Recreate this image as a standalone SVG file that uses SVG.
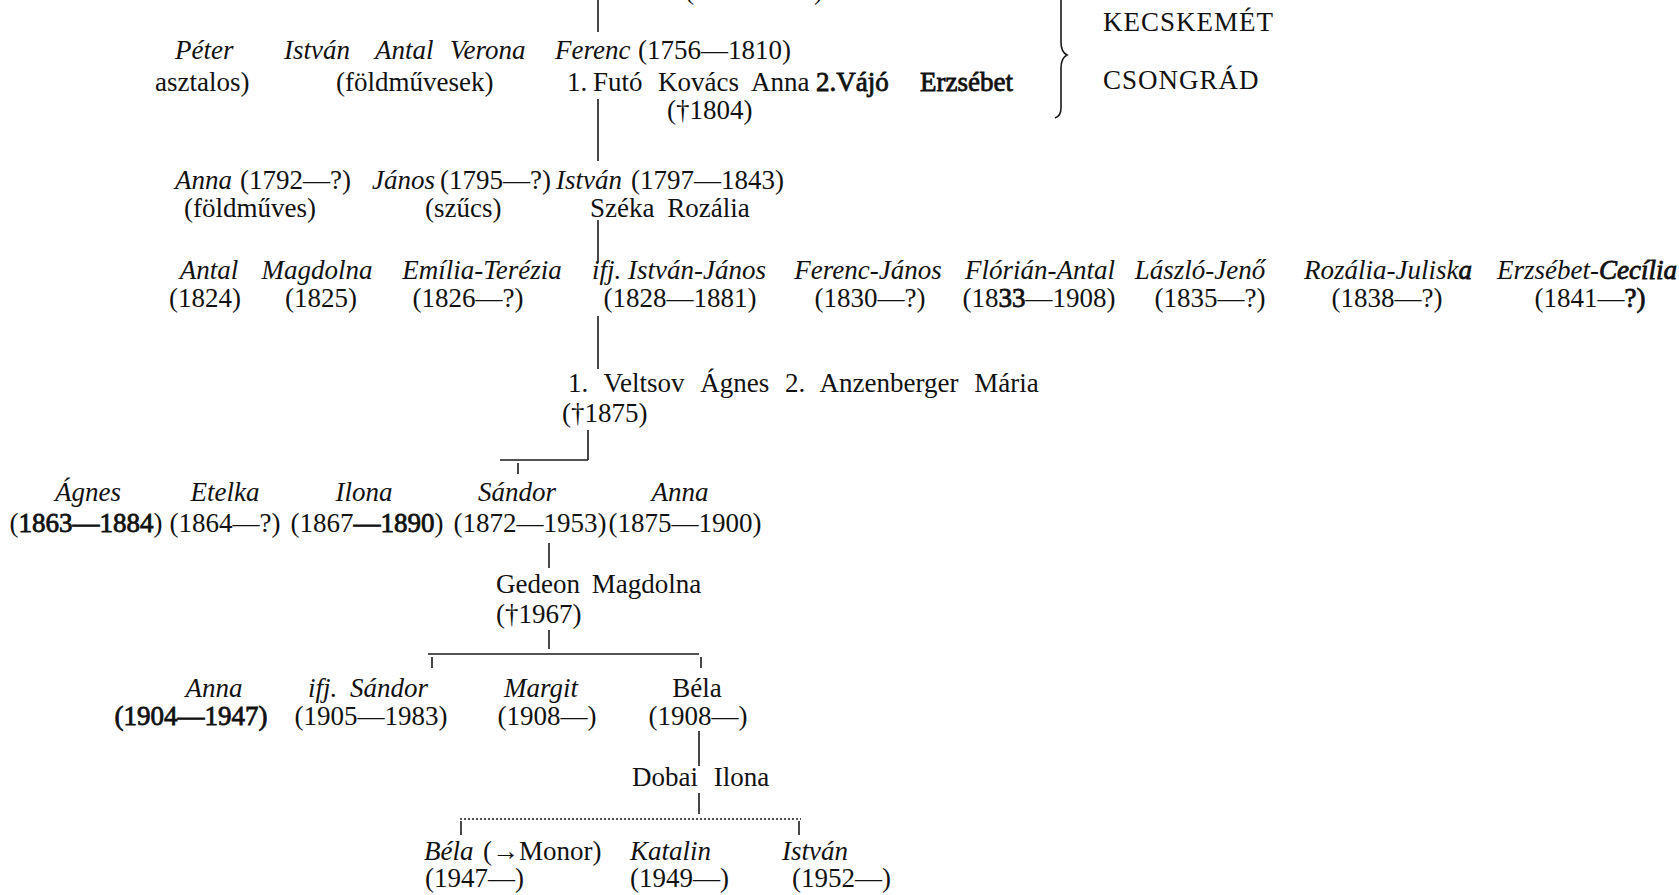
<svg xmlns="http://www.w3.org/2000/svg" width="1679" height="895" viewBox="0 0 1679 895">
<style>
text{font-family:"Liberation Serif","Times New Roman",serif;font-size:27px;fill:#111}
.i{font-style:italic}
.b{stroke:#111;stroke-width:0.8}
.m{text-anchor:middle}
.reg{letter-spacing:1px}
.ln{stroke:#1a1a1a;stroke-width:1.6;fill:none}
.dot{stroke:#1a1a1a;stroke-width:1.6;stroke-dasharray:2 2;fill:none}
</style>
<rect width="1679" height="895" fill="#fff"/>
<g id="connectors">
<line class="ln" x1="598" y1="0" x2="598" y2="32"/>
<line class="ln" x1="598" y1="99" x2="598" y2="161"/>
<line class="ln" x1="598" y1="220" x2="598" y2="262"/>
<line class="ln" x1="598" y1="316" x2="598" y2="369"/>
<line class="ln" x1="588" y1="430" x2="588" y2="460"/>
<line class="ln" x1="500" y1="460" x2="588" y2="460" stroke-width="2"/>
<line class="ln" x1="518" y1="463" x2="518" y2="474"/>
<line class="ln" x1="549" y1="543" x2="549" y2="568"/>
<line class="ln" x1="549" y1="630" x2="549" y2="649"/>
<line class="ln" x1="428" y1="654" x2="699" y2="654"/>
<line class="ln" x1="432" y1="657" x2="432" y2="668"/>
<line class="ln" x1="701" y1="657" x2="701" y2="668"/>
<line class="ln" x1="699" y1="731" x2="699" y2="766"/>
<line class="ln" x1="699" y1="793" x2="699" y2="814"/>
<line class="dot" x1="460" y1="819" x2="801" y2="819"/>
<line class="ln" x1="461" y1="821" x2="461" y2="835"/>
<line class="ln" x1="799" y1="821" x2="799" y2="835"/>
<path class="ln" stroke-width="2.2" d="M1061,-10 L1061,42 Q1061,52 1067,55 Q1061,58 1061,68 L1061,108 Q1061,116 1055,118"/>
</g>
<g id="top">
<text x="685" y="-1">(</text>
<text x="814" y="-1">)</text>
</g>
<g id="region">
<text class="reg" x="1103" y="31">KECSKEMÉT</text>
<text class="reg" x="1103" y="89">CSONGRÁD</text>
</g>
<g id="gen1">
<text x="175" y="59" class="i">Péter</text>
<text x="155" y="91">asztalos)</text>
<text x="284" y="59" class="i">István</text>
<text x="375" y="59" class="i">Antal</text>
<text x="450" y="59" class="i">Verona</text>
<text x="336" y="91">(földművesek)</text>
</g>
<g id="ferenc">
<text x="555" y="59" class="i">Ferenc</text>
<text x="638" y="59">(1756—1810)</text>
<text y="91"><tspan x="567">1.</tspan><tspan x="593">Futó</tspan><tspan x="658">Kovács</tspan><tspan x="751">Anna</tspan><tspan x="816" class="b">2.Vájó</tspan><tspan x="920" class="b">Erzsébet</tspan></text>
<text x="667" y="119">(†1804)</text>
</g>
<g id="gen2">
<text x="175" y="189" class="i">Anna</text>
<text x="240" y="189">(1792—?)</text>
<text x="184" y="217">(földműves)</text>
<text x="372" y="189" class="i">János</text>
<text x="440" y="189">(1795—?)</text>
<text x="425" y="217">(szűcs)</text>
</g>
<g id="istvan">
<text x="556" y="189" class="i">István</text>
<text x="631" y="189">(1797—1843)</text>
<text x="590" y="217" word-spacing="6">Széka Rozália</text>
</g>
<g id="gen3">
<text class="i m" x="209" y="279">Antal</text><text class="m" x="205" y="307">(1824)</text>
<text class="i m" x="317" y="279">Magdolna</text><text class="m" x="321" y="307">(1825)</text>
<text class="i m" x="482" y="279">Emília-Terézia</text><text class="m" x="468" y="307">(1826—?)</text>
<text class="i m" x="868" y="279">Ferenc-János</text><text class="m" x="870" y="307">(1830—?)</text>
<text class="i m" x="1040" y="279">Flórián-Antal</text><text class="m" x="1039" y="307">(18<tspan class="b">33</tspan>—1908)</text>
<text class="i m" x="1200" y="279">László-Jenő</text><text class="m" x="1210" y="307">(1835—?)</text>
<text class="i m" x="1388" y="279">Rozália-Julisk<tspan class="b">a</tspan></text><text class="m" x="1387" y="307">(1838—?)</text>
<text class="i m" x="1587" y="279">Erzsébet-<tspan class="b">Cecília</tspan></text><text class="m" x="1590" y="307">(1841—<tspan class="b">?)</tspan></text>
</g>
<g id="ifjistvan">
<text class="i m" x="679" y="279">ifj. István-János</text><text class="m" x="680" y="307">(1828—1881)</text>
<text x="568" y="392" word-spacing="9">1. Veltsov Ágnes 2. Anzenberger Mária</text>
<text x="562" y="422">(†1875)</text>
</g>
<g id="gen4">
<text class="i m" x="88" y="501">Ágnes</text><text class="m" x="86" y="532">(<tspan class="b">1863—1884</tspan>)</text>
<text class="i m" x="225" y="501">Etelka</text><text class="m" x="225" y="532">(1864—?)</text>
<text class="i m" x="364" y="501">Ilona</text><text class="m" x="367" y="532">(1867<tspan class="b">—1890</tspan>)</text>
<text class="i m" x="680" y="501">Anna</text><text class="m" x="685" y="532">(1875—1900)</text>
</g>
<g id="sandor">
<text class="i m" x="517" y="501">Sándor</text><text class="m" x="530" y="532">(1872—1953)</text>
<text x="496" y="593" word-spacing="5">Gedeon Magdolna</text>
<text x="496" y="623">(†1967)</text>
</g>
<g id="gen5">
<text class="i m" x="214" y="697">Anna</text><text class="m b" x="191" y="725">(1904—1947)</text>
<text class="i m" x="368" y="697" word-spacing="6">ifj. Sándor</text><text class="m" x="371" y="725">(1905—1983)</text>
<text class="i m" x="541" y="697">Margit</text><text class="m" x="547" y="725">(1908—)</text>
</g>
<g id="bela">
<text class="m" x="697" y="697">Béla</text><text class="m" x="698" y="725">(1908—)</text>
<text x="632" y="786" word-spacing="9">Dobai Ilona</text>
</g>
<g id="gen6">
<text x="424" y="860" class="i">Béla</text><text x="483" y="860">(→Monor)</text><text x="425" y="887">(1947—)</text>
<text x="630" y="860" class="i">Katalin</text><text x="630" y="887">(1949—)</text>
<text x="782" y="860" class="i">István</text><text x="792" y="887">(1952—)</text>
</g>
</svg>
